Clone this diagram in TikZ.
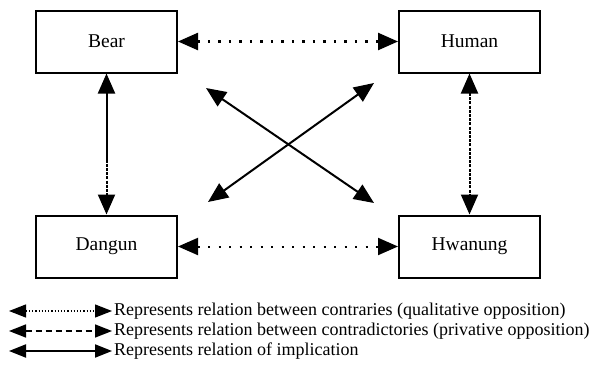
\documentclass[tikz,border=0pt]{standalone}
\usepackage{fontspec}
\setmainfont{Liberation Serif}
\usetikzlibrary{arrows.meta,positioning}

\tikzset{
  box/.style={draw, line width=2pt, minimum width=141pt, minimum height=62pt, font=\fontsize{19.5}{22}\selectfont},
  bigtip/.style={{Triangle[length=20pt,width=17pt]}-{Triangle[length=20pt,width=17pt]}},
  smalltip/.style={{Triangle[length=17pt,width=13pt]}-{Triangle[length=17pt,width=13pt]}},
  contrary/.style={bigtip, line width=2.4pt, dash pattern=on 2.5pt off 8pt},
  contradict/.style={bigtip, line width=2pt, dash pattern=on 3pt off 1.2pt},
  implic/.style={bigtip, line width=2pt},
  legtext/.style={anchor=west, inner sep=2pt, font=\fontsize{18}{20}\selectfont}
}

\begin{document}
\begin{tikzpicture}[x=1pt,y=-1pt]

  \useasboundingbox (0,0) rectangle (595,367);

  % --- Kaesten ---
  \node[box] (bear)    at (106.5,41.5) {Bear};
  \node[box] (human)   at (469.5,41.5) {Human};
  \node[box] (dangun)  at (106.5,246.5) {Dangun};
  \node[box] (hwanung) at (469.5,246.5) {Hwanung};

  % --- Gegensaetze (gepunktet) ---
  \draw[contrary] (bear.east) -- (human.west);
  \draw[contrary, line width=2pt, dash pattern=on 2pt off 8.5pt] (dangun.east) -- (hwanung.west);

  % --- Widersprueche (gestrichelt) ---
  \coordinate[below=86pt of bear.south] (split);
  \draw[line width=2pt, {Triangle[length=20pt,width=17pt]}-] (bear.south) -- (split);
  \draw[line width=2pt, dash pattern=on 3pt off 1.2pt, -{Triangle[length=20pt,width=17pt]}] (split) -- (dangun.north);
  \draw[contradict] (human.south) -- (hwanung.north);

  % --- Implikation (Diagonalen) ---
  \coordinate[below right=14.5pt and 28pt of bear.south east] (diagA1);
  \coordinate[above left=11.5pt and 24pt of hwanung.north west] (diagA2);
  \coordinate[above right=12.5pt and 30pt of dangun.north east] (diagB1);
  \coordinate[below left=9.5pt and 24pt of human.south west] (diagB2);
  \draw[implic] (diagA1) -- (diagA2);
  \draw[implic] (diagB1) -- (diagB2);

  % --- Legende ---
  \node[legtext] (leg1) at (112,311) {Represents relation between contraries (qualitative opposition)};
  \node[legtext] (leg2) at (112,331) {Represents relation between contradictories (privative opposition)};
  \node[legtext] (leg3) at (112,351) {Represents relation of implication};
  \coordinate (leg1s) at (9,311);
  \coordinate (leg2s) at (9,331);
  \coordinate (leg3s) at (9,351);
  \draw[smalltip, line width=1.2pt, dash pattern=on 1.2pt off 2pt] (leg1s) -- (leg1.west);
  \draw[smalltip, line width=1.6pt, dash pattern=on 6pt off 4pt] (leg2s) -- (leg2.west);
  \draw[smalltip, line width=2pt] (leg3s) -- (leg3.west);

\end{tikzpicture}
\end{document}
